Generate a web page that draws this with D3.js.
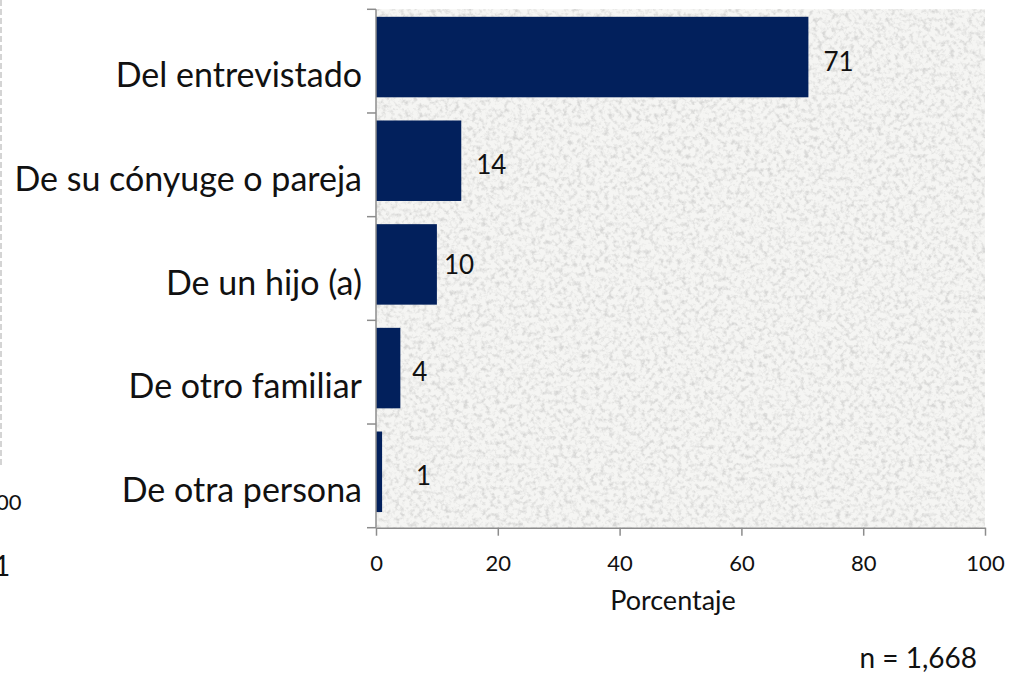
<!DOCTYPE html>
<html><head><meta charset="utf-8">
<script src="https://cdn.jsdelivr.net/npm/d3@7"></script>
<style>body{margin:0;background:#fff}svg{display:block}</style>
</head><body>
<script>
const categories = ["Del entrevistado","De su cónyuge o pareja","De un hijo (a)","De otro familiar","De otra persona"];
const values = [71,14,10,4,1];
const xTicks = [0,20,40,60,80,100];
const xTitle = "Porcentaje";
const note = "n = 1,668";

const W=1009,H=674;
const svg=d3.select("body").append("svg").attr("width",W).attr("height",H);
const m={l:376,r:985,t:9.3,b:527.7};
const x=d3.scaleLinear().domain([0,100]).range([m.l,m.r]);
const y=d3.scaleBand().domain(categories).range([m.t,m.b]).padding(0);
const font="Lato, 'Open Sans', sans-serif";
const axisCol="#8c8c8c";

const defs=svg.append("defs");
const f=defs.append("filter").attr("id","granite").attr("x",0).attr("y",0).attr("width","100%").attr("height","100%");
f.append("feTurbulence").attr("type","fractalNoise").attr("baseFrequency",0.22).attr("numOctaves",3).attr("seed",7).attr("result","n");
f.append("feColorMatrix").attr("in","n").attr("type","matrix")
 .attr("values","0 0 0 0 0.68  0 0 0 0 0.68  0 0 0 0 0.67  2.8 0 0 0 -1.25").attr("result","c");
f.append("feComposite").attr("in","c").attr("in2","SourceGraphic").attr("operator","over");

svg.append("rect").attr("x",m.l).attr("y",m.t).attr("width",m.r-m.l).attr("height",m.b-m.t)
 .attr("fill","#f5f5f3").attr("filter","url(#granite)");

// left-edge fragments of neighbouring content
svg.append("line").attr("x1",1).attr("x2",1).attr("y1",0).attr("y2",465).attr("stroke","#d4d4d4").attr("stroke-width",2).attr("stroke-dasharray","6,3");
svg.append("text").attr("x",-4).attr("y",510).attr("font-family",font).attr("font-size",22).attr("fill","#111").text("00");
svg.append("text").attr("x",-6).attr("y",576).attr("font-family",font).attr("font-size",28).attr("fill","#111").text("1");

const barTop=7.5, barH=80.5;
svg.selectAll(".bar").data(values).enter().append("rect")
 .attr("x",x(0)).attr("y",(d,i)=>y(categories[i])+barTop).attr("width",d=>x(d)-x(0)).attr("height",barH)
 .attr("fill","#02205c");

// label placement as in the original (manually nudged)
const lblDx=[15,15,7,12,34], lblDy=[62,61,57,61,61];
svg.selectAll(".val").data(values).enter().append("text")
 .attr("x",(d,i)=>x(d)+lblDx[i]).attr("y",(d,i)=>y(categories[i])+lblDy[i])
 .attr("font-family",font).attr("font-size",26).attr("fill","#111").text(d=>d);

const gx=svg.append("g").attr("transform",`translate(0,${m.b})`).call(d3.axisBottom(x).tickValues(xTicks).tickSize(8).tickSizeOuter(0));
gx.select(".domain").attr("stroke",axisCol).attr("stroke-width",1.5);
gx.selectAll("line").attr("stroke",axisCol).attr("stroke-width",1.5);
gx.selectAll("text").attr("y",43).attr("dy",0).attr("font-family",font).attr("font-size",22).attr("fill","#111");

const yBounds=categories.map(c=>y(c)).concat([m.b]);
svg.append("line").attr("x1",m.l).attr("x2",m.l).attr("y1",m.t).attr("y2",m.b).attr("stroke",axisCol).attr("stroke-width",1.5);
svg.selectAll(".yt").data(yBounds).enter().append("line").attr("x1",m.l-9).attr("x2",m.l).attr("y1",d=>d).attr("y2",d=>d).attr("stroke",axisCol).attr("stroke-width",1.5);

svg.selectAll(".cat").data(categories).enter().append("text")
 .attr("x",362).attr("y",d=>y(d)+78).attr("text-anchor","end")
 .attr("font-family",font).attr("font-size",34).attr("fill","#111").text(d=>d);

svg.append("text").attr("x",673).attr("y",610).attr("text-anchor","middle").attr("font-family",font).attr("font-size",27).attr("fill","#111").text(xTitle);
svg.append("text").attr("x",977).attr("y",668).attr("text-anchor","end").attr("font-family",font).attr("font-size",28).attr("fill","#111").text(note);
</script>
</body></html>
